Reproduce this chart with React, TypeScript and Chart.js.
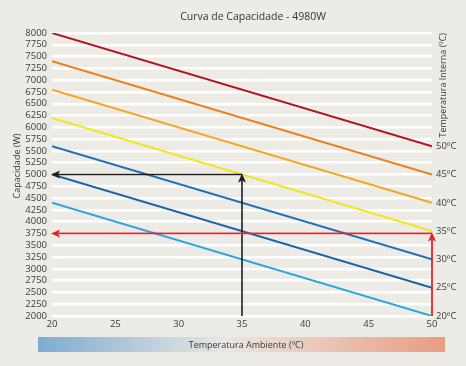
import React, { useEffect, useRef } from "react";
import { Chart, registerables } from "chart.js";

Chart.register(...registerables);

// ---- data ----
const ambientTemps = [20, 50];
const internalLabels = ["20ºC", "25ºC", "30ºC", "35ºC", "40ºC", "45ºC", "50ºC"];
const capacityAt20 = [4400, 5000, 5600, 6200, 6800, 7400, 8000];
const capacityAt50 = [2000, 2600, 3200, 3800, 4400, 5000, 5600];
const lineColors = ["#2aa6de", "#1c62a4", "#2170b5", "#f3e41e", "#f5a623", "#f07d1c", "#b3141e"];
const yTicksRange = [2000, 8000];
const xTicksRange = [20, 50];
// annotation examples: [ambient, capacity]
const blackExample = [35, 5000];
const redExample = [50, 3750];

const TITLE = "Curva de Capacidade - 4980W";
const Y_TITLE = "Capacidade (W)";
const Y2_TITLE = "Temperatura Interna (ºC)";
const X_TITLE = "Temperatura Ambiente (ºC)";

const FONT = "'Open Sans', sans-serif";
const TEXT = "#3a3a3a";

function arrowHead(ctx: CanvasRenderingContext2D, x: number, y: number, dir: "up" | "left", color: string) {
  ctx.save();
  ctx.fillStyle = color;
  ctx.beginPath();
  if (dir === "up") {
    ctx.moveTo(x, y - 1);
    ctx.lineTo(x - 4, y + 8);
    ctx.lineTo(x, y + 6);
    ctx.lineTo(x + 4, y + 8);
  } else {
    ctx.moveTo(x - 1, y);
    ctx.lineTo(x + 8, y - 4);
    ctx.lineTo(x + 6, y);
    ctx.lineTo(x + 8, y + 4);
  }
  ctx.closePath();
  ctx.fill();
  ctx.restore();
}

const decorPlugin = {
  id: "decor",
  beforeDraw(chart: any) {
    const { ctx, width, height } = chart;
    ctx.save();
    ctx.fillStyle = "#ecebe5";
    ctx.fillRect(0, 0, width, height);
    ctx.restore();
  },
  afterDatasetsDraw(chart: any) {
    const { ctx } = chart;
    const xs = chart.scales.x;
    const ys = chart.scales.y;
    const drawExample = (ex: number[], color: string, lw: number) => {
      const px = xs.getPixelForValue(ex[0]);
      const py = ys.getPixelForValue(ex[1]);
      const x0 = xs.getPixelForValue(xTicksRange[0]);
      const yb = ys.getPixelForValue(yTicksRange[0]);
      ctx.save();
      ctx.strokeStyle = color;
      ctx.lineWidth = lw;
      ctx.beginPath();
      ctx.moveTo(px, yb);
      ctx.lineTo(px, py + 6);
      ctx.stroke();
      ctx.beginPath();
      ctx.moveTo(px, py);
      ctx.lineTo(x0 + 6, py);
      ctx.stroke();
      ctx.restore();
      arrowHead(ctx, px, py, "up", color);
      arrowHead(ctx, x0, py, "left", color);
    };
    drawExample(blackExample, "#1e1e1e", 1.6);
    drawExample(redExample, "#e8222b", 1.8);
  },
  afterDraw(chart: any) {
    const { ctx, chartArea } = chart;
    ctx.save();
    ctx.fillStyle = "#333";
    ctx.font = `10.5px ${FONT}`;
    ctx.textAlign = "center";
    ctx.textBaseline = "middle";
    ctx.fillText(TITLE, 253, 17);

    ctx.font = `9px ${FONT}`;
    ctx.fillStyle = TEXT;
    // left axis title
    ctx.save();
    ctx.translate(17, 166);
    ctx.rotate(-Math.PI / 2);
    ctx.fillText(Y_TITLE, 0, 0);
    ctx.restore();
    // right axis title
    ctx.save();
    ctx.translate(443, chartArea.top);
    ctx.rotate(-Math.PI / 2);
    ctx.textAlign = "right";
    ctx.fillText(Y2_TITLE, 0, 0);
    ctx.restore();

    // gradient bar + x title
    const gx0 = 38, gx1 = 445, gy0 = 337, gy1 = 352;
    const g = ctx.createLinearGradient(gx0, 0, gx1, 0);
    g.addColorStop(0, "#7fabd1");
    g.addColorStop(0.46, "#e9e7e3");
    g.addColorStop(1, "#e89d80");
    ctx.fillStyle = g;
    ctx.fillRect(gx0, gy0, gx1 - gx0, gy1 - gy0);
    ctx.fillStyle = TEXT;
    ctx.textAlign = "center";
    ctx.fillText(X_TITLE, 246, (gy0 + gy1) / 2 + 0.5);
    ctx.restore();
  },
};

export default function App() {
  const ref = useRef<HTMLCanvasElement>(null);
  useEffect(() => {
    if (!ref.current) return;
    const datasets = internalLabels.map((lbl, i) => ({
      label: lbl,
      data: [
        { x: ambientTemps[0], y: capacityAt20[i] },
        { x: ambientTemps[1], y: capacityAt50[i] },
      ],
      borderColor: lineColors[i],
      borderWidth: 2,
      pointRadius: 0,
      fill: false,
      tension: 0,
    }));
    const tickFont = { family: FONT, size: 9.5 };
    const chart = new Chart(ref.current, {
      type: "line",
      data: { datasets },
      plugins: [decorPlugin],
      options: {
        animation: false,
        responsive: false,
        layout: { padding: { top: 33, left: 0, right: 0, bottom: 0 } },
        plugins: { legend: { display: false }, tooltip: { enabled: false }, title: { display: false } },
        scales: {
          x: {
            type: "linear",
            min: xTicksRange[0],
            max: xTicksRange[1],
            ticks: { stepSize: 5, color: TEXT, font: tickFont, padding: 3, maxRotation: 0, callback: (v: any) => String(v) },
            grid: { display: false, drawTicks: false },
            border: { display: false },
            afterFit: (s: any) => { s.height = 50; },
          },
          y: {
            position: "left",
            min: yTicksRange[0],
            max: yTicksRange[1],
            ticks: { stepSize: 250, color: TEXT, font: tickFont, padding: 5, autoSkip: false, callback: (v: any) => String(v) },
            grid: { color: "#ffffff", lineWidth: 2.5, drawTicks: false },
            border: { display: false },
            afterFit: (s: any) => { s.width = 52; },
          },
          y2: {
            position: "right",
            min: yTicksRange[0],
            max: yTicksRange[1],
            afterBuildTicks: (s: any) => {
              s.ticks = capacityAt50.map((v) => ({ value: v }));
            },
            ticks: {
              color: TEXT,
              font: tickFont,
              padding: 4,
              autoSkip: false,
              callback: (_v: any, idx: number) => internalLabels[idx],
            },
            grid: { display: false, drawTicks: false },
            border: { display: false },
            afterFit: (s: any) => { s.width = 34; },
          },
        },
      },
    } as any);
    return () => chart.destroy();
  }, []);
  return (
    <div style={{ position: "fixed", left: 0, top: 0, width: 466, height: 366, background: "#ecebe5" }}>
      <canvas ref={ref} width={466} height={366} style={{ display: "block" }} />
    </div>
  );
}
